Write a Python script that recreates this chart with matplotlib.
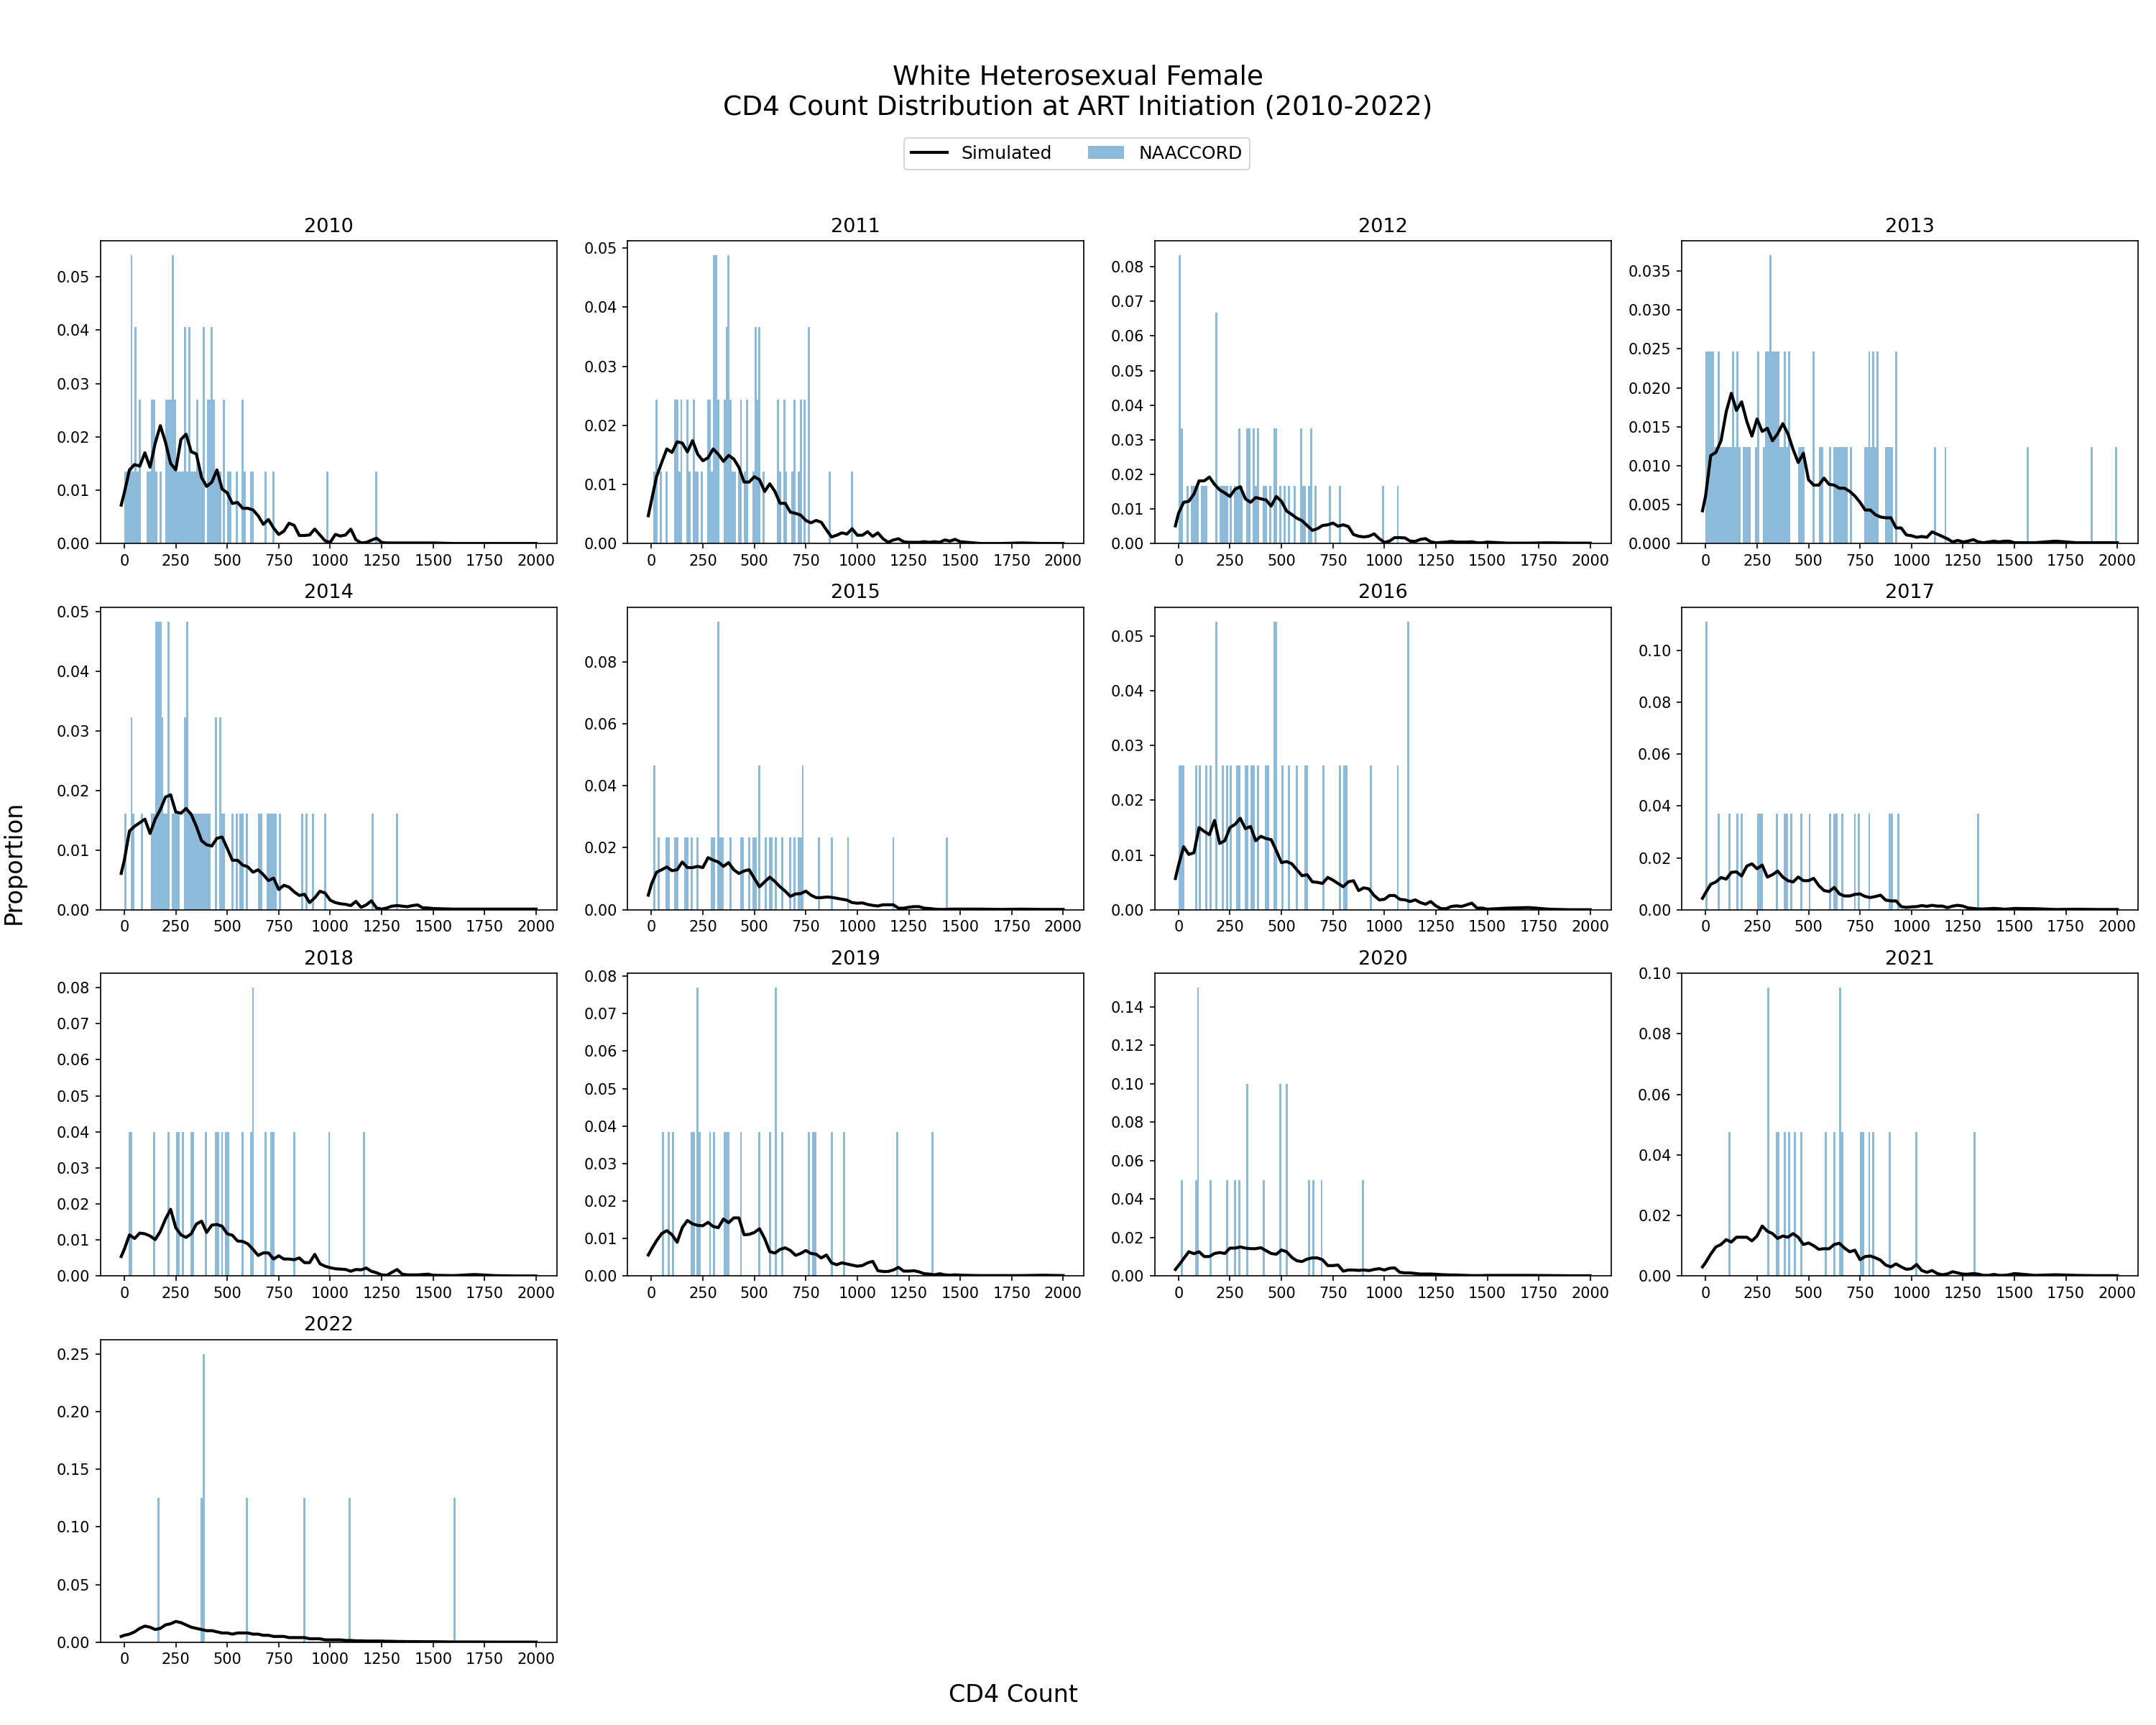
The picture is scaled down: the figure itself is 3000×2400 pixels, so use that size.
import numpy as np
import matplotlib
matplotlib.use("Agg")
import matplotlib.pyplot as plt

years = [2010, 2011, 2012, 2013, 2014, 2015, 2016, 2017, 2018, 2019, 2020, 2021, 2022]

# NAACCORD cohort size per year (bar height = count / n)
naaccord_n = [74, 82, 60, 81, 62, 43, 38, 27, 25, 26, 20, 21, 8]

# NAACCORD CD4 counts at ART initiation, one entry per person
naaccord_cd4 = [
    # 2010
    [5, 15, 25, 35, 35, 35, 35, 45, 55, 55, 55, 65, 75, 75,
     115, 125, 135, 135, 145, 145, 155, 175,
     205, 205, 215, 215, 225, 225, 235, 235, 235, 235, 245, 245, 255, 265, 275,
     285, 295, 295, 295, 305, 315, 315, 315, 325, 335,
     345, 355, 355, 365, 375, 385, 385, 385,
     405, 405, 415, 415, 425, 425, 425, 435, 435, 445, 455, 465,
     485, 485, 505, 515, 545, 575, 575, 585, 615, 625, 685, 725, 985, 1225],
    # 2011
    [15, 25, 25, 45, 75, 115, 115, 125, 125, 135, 145, 145, 175, 175, 185, 205, 205, 215, 225, 245,
     275, 275, 285, 285, 295, 305, 305, 305, 305, 315, 315, 315, 315, 325, 325,
     355, 355, 365, 365, 365, 375, 375, 375, 375, 385, 385, 395, 405,
     425, 435, 435, 455, 465, 465,
     495, 505, 505, 505, 515, 515, 525, 525, 525, 545,
     615, 615, 625, 645, 645, 655,
     685, 695, 695, 715, 725, 725, 745, 745, 765, 765, 765, 865, 975],
    # 2012
    [5, 5, 5, 5, 5, 15, 15, 45, 65, 75, 85, 95, 115, 125, 135, 185, 185, 185, 185,
     205, 215, 225, 235, 255, 275, 285, 295, 295, 305, 335, 335, 345, 345,
     365, 365, 375, 385, 385, 415, 425, 445, 465, 465, 475, 475, 495, 515, 535, 565,
     595, 595, 605, 615, 635, 645, 645, 665, 735, 785, 995, 1065],
    # 2013
    [5, 5, 15, 15, 25, 25, 35, 35, 45, 55, 65, 65, 75, 85, 95, 105, 115, 125, 135, 135,
     145, 155, 155, 165, 185, 195, 205, 215, 245, 255, 255, 285, 295, 295, 305, 305,
     315, 315, 315, 325, 325, 335, 335, 345, 345, 355, 355, 365, 375, 385, 385, 395,
     405, 405, 455, 465, 475, 525, 525, 555, 565, 605, 625, 635, 645, 655, 665, 675,
     685, 705, 775, 785, 795, 795, 805, 815, 815, 825, 835, 835, 875, 885, 895, 905,
     925, 925, 1115, 1165, 1565, 1875, 1995],
    # 2014
    [5, 35, 35, 45, 85, 135, 145, 155, 155, 155, 165, 165, 165, 175, 175, 175, 185, 185,
     195, 205, 215, 215, 215, 235, 245, 255, 265, 295, 295, 305, 305, 305,
     315, 325, 335, 345, 355, 365, 375, 385, 395, 405, 415,
     445, 445, 465, 465, 475, 485, 525, 545, 565, 575, 595, 655, 665,
     695, 705, 715, 725, 735, 755, 865, 885, 915, 975, 1205, 1325],
    # 2015
    [15, 15, 35, 75, 85, 115, 125, 165, 175, 195, 225, 295, 305, 325, 325, 325, 325,
     335, 345, 385, 435, 445, 475, 495, 505, 525, 525, 555, 575, 585, 605, 635, 675,
     695, 715, 725, 735, 735, 815, 875, 955, 1175, 1435],
    # 2016
    [5, 15, 25, 85, 105, 135, 155, 185, 185, 215, 235, 255, 285, 295, 325, 335, 355,
     365, 385, 425, 435, 465, 465, 475, 475, 505, 535, 575, 615, 625, 705, 785, 805,
     815, 935, 1065, 1115, 1115],
    # 2017
    [5, 5, 5, 65, 115, 155, 175, 255, 265, 275, 345, 385, 395, 415, 465, 505, 605,
     625, 635, 665, 725, 745, 795, 895, 905, 935, 1325],
    # 2018
    [25, 35, 145, 215, 255, 265, 285, 325, 335, 395, 445, 455, 475, 495, 505, 575,
     615, 625, 625, 685, 715, 725, 825, 995, 1165],
    # 2019
    [55, 85, 105, 195, 205, 225, 225, 235, 285, 305, 355, 365, 375, 435, 525, 575,
     605, 605, 635, 765, 785, 795, 875, 935, 1195, 1365],
    # 2020
    [15, 85, 95, 95, 95, 155, 235, 275, 295, 335, 335, 415, 495, 495, 525, 525,
     635, 655, 695, 895],
    # 2021
    [115, 305, 305, 345, 355, 385, 405, 435, 465, 585, 625, 655, 655, 665, 755, 765,
     795, 815, 895, 1025, 1305],
    # 2022
    [165, 375, 385, 385, 595, 875, 1095, 1605],
]

# CD4 grid of the simulated distribution
sim_x = [-15] + list(range(0, 1500, 25)) + [1500, 1600, 1700, 1800, 1900, 2000]

# simulated proportion at each grid point
sim_y = [
    # 2010
    [0.0072,
     0.0095, 0.0138, 0.0148, 0.0145, 0.0170, 0.0143, 0.0188, 0.0221, 0.0190, 0.0150,
     0.0138, 0.0195, 0.0205, 0.0172, 0.0168, 0.0124, 0.0107, 0.0115, 0.0138, 0.0102,
     0.0095, 0.0075, 0.0077, 0.0066, 0.0066, 0.0063, 0.0052, 0.0036, 0.0045, 0.0029,
     0.0017, 0.0023, 0.0038, 0.0034, 0.0015, 0.0015, 0.0016, 0.0027, 0.0016, 0.0005,
     0.0002, 0.0017, 0.0014, 0.0016, 0.0027, 0.0007, 0.0001, 0.0002, 0.0006, 0.0010,
     0.0002, 0.0001, 0.0001, 0.0001, 0.0001, 0.0001, 0.0001, 0.0001, 0.0001, 0.0001,
     0.0001, 0.0000, 0.0000, 0.0000, 0.0000, 0.0000],
    # 2011
    [0.0047,
     0.0072, 0.0113, 0.0137, 0.0160, 0.0154, 0.0172, 0.0170, 0.0155, 0.0174, 0.0151,
     0.0140, 0.0145, 0.0160, 0.0151, 0.0139, 0.0149, 0.0143, 0.0129, 0.0104, 0.0104,
     0.0113, 0.0108, 0.0088, 0.0101, 0.0088, 0.0068, 0.0068, 0.0053, 0.0051, 0.0048,
     0.0039, 0.0035, 0.0039, 0.0036, 0.0023, 0.0011, 0.0014, 0.0018, 0.0016, 0.0025,
     0.0014, 0.0014, 0.0020, 0.0012, 0.0018, 0.0008, 0.0002, 0.0006, 0.0008, 0.0003,
     0.0002, 0.0002, 0.0002, 0.0003, 0.0002, 0.0003, 0.0002, 0.0006, 0.0004, 0.0007,
     0.0003, 0.0000, 0.0000, 0.0001, 0.0000, 0.0000],
    # 2012
    [0.0051,
     0.0087, 0.0119, 0.0122, 0.0143, 0.0181, 0.0181, 0.0192, 0.0171, 0.0155, 0.0146,
     0.0136, 0.0157, 0.0164, 0.0129, 0.0119, 0.0133, 0.0129, 0.0126, 0.0108, 0.0136,
     0.0122, 0.0094, 0.0084, 0.0073, 0.0066, 0.0052, 0.0038, 0.0043, 0.0052, 0.0054,
     0.0059, 0.0050, 0.0054, 0.0049, 0.0026, 0.0021, 0.0019, 0.0021, 0.0028, 0.0014,
     0.0003, 0.0007, 0.0017, 0.0017, 0.0016, 0.0007, 0.0006, 0.0012, 0.0014, 0.0005,
     0.0002, 0.0003, 0.0004, 0.0006, 0.0004, 0.0004, 0.0004, 0.0005, 0.0002, 0.0002,
     0.0004, 0.0001, 0.0001, 0.0002, 0.0001, 0.0001],
    # 2013
    [0.0042,
     0.0061, 0.0113, 0.0117, 0.0132, 0.0169, 0.0193, 0.0171, 0.0182, 0.0157, 0.0138,
     0.0160, 0.0144, 0.0148, 0.0132, 0.0141, 0.0154, 0.0141, 0.0121, 0.0104, 0.0116,
     0.0082, 0.0075, 0.0075, 0.0084, 0.0076, 0.0075, 0.0071, 0.0071, 0.0067, 0.0061,
     0.0053, 0.0043, 0.0043, 0.0037, 0.0034, 0.0033, 0.0033, 0.0020, 0.0020, 0.0011,
     0.0010, 0.0008, 0.0009, 0.0008, 0.0015, 0.0012, 0.0009, 0.0006, 0.0002, 0.0004,
     0.0002, 0.0003, 0.0005, 0.0002, 0.0001, 0.0002, 0.0003, 0.0002, 0.0003, 0.0003,
     0.0001, 0.0001, 0.0003, 0.0001, 0.0001, 0.0001],
    # 2014
    [0.0061,
     0.0083, 0.0132, 0.0140, 0.0146, 0.0152, 0.0128, 0.0152, 0.0168, 0.0189, 0.0193,
     0.0164, 0.0162, 0.0170, 0.0160, 0.0140, 0.0116, 0.0109, 0.0107, 0.0120, 0.0122,
     0.0103, 0.0083, 0.0083, 0.0075, 0.0072, 0.0063, 0.0067, 0.0059, 0.0049, 0.0053,
     0.0034, 0.0041, 0.0038, 0.0030, 0.0024, 0.0026, 0.0012, 0.0020, 0.0031, 0.0028,
     0.0016, 0.0012, 0.0010, 0.0009, 0.0007, 0.0014, 0.0004, 0.0008, 0.0015, 0.0003,
     0.0001, 0.0003, 0.0006, 0.0007, 0.0006, 0.0005, 0.0007, 0.0008, 0.0003, 0.0003,
     0.0002, 0.0001, 0.0001, 0.0001, 0.0001, 0.0001],
    # 2015
    [0.0047,
     0.0082, 0.0121, 0.0129, 0.0138, 0.0126, 0.0129, 0.0154, 0.0136, 0.0136, 0.0140,
     0.0136, 0.0168, 0.0160, 0.0154, 0.0140, 0.0152, 0.0129, 0.0117, 0.0125, 0.0129,
     0.0101, 0.0074, 0.0090, 0.0105, 0.0091, 0.0074, 0.0060, 0.0043, 0.0051, 0.0052,
     0.0060, 0.0047, 0.0039, 0.0039, 0.0041, 0.0040, 0.0037, 0.0034, 0.0031, 0.0023,
     0.0021, 0.0022, 0.0017, 0.0014, 0.0012, 0.0016, 0.0016, 0.0016, 0.0005, 0.0005,
     0.0008, 0.0010, 0.0010, 0.0005, 0.0004, 0.0002, 0.0001, 0.0001, 0.0002, 0.0002,
     0.0002, 0.0002, 0.0001, 0.0002, 0.0001, 0.0001],
    # 2016
    [0.0057,
     0.0081, 0.0115, 0.0101, 0.0104, 0.0150, 0.0143, 0.0137, 0.0163, 0.0121, 0.0126,
     0.0150, 0.0156, 0.0167, 0.0148, 0.0152, 0.0126, 0.0134, 0.0130, 0.0128, 0.0108,
     0.0086, 0.0088, 0.0084, 0.0073, 0.0062, 0.0064, 0.0051, 0.0050, 0.0048, 0.0059,
     0.0054, 0.0048, 0.0042, 0.0051, 0.0053, 0.0035, 0.0040, 0.0038, 0.0026, 0.0018,
     0.0019, 0.0026, 0.0026, 0.0019, 0.0018, 0.0015, 0.0018, 0.0013, 0.0010, 0.0015,
     0.0007, 0.0002, 0.0002, 0.0006, 0.0007, 0.0006, 0.0009, 0.0012, 0.0003, 0.0003,
     0.0001, 0.0003, 0.0004, 0.0001, 0.0000, 0.0000],
    # 2017
    [0.0044,
     0.0065, 0.0098, 0.0107, 0.0124, 0.0118, 0.0144, 0.0146, 0.0130, 0.0168, 0.0177,
     0.0158, 0.0172, 0.0126, 0.0135, 0.0149, 0.0126, 0.0112, 0.0107, 0.0126, 0.0112,
     0.0112, 0.0121, 0.0093, 0.0074, 0.0070, 0.0086, 0.0061, 0.0053, 0.0053, 0.0059,
     0.0061, 0.0051, 0.0047, 0.0051, 0.0056, 0.0037, 0.0034, 0.0034, 0.0012, 0.0009,
     0.0011, 0.0012, 0.0016, 0.0013, 0.0017, 0.0014, 0.0014, 0.0008, 0.0014, 0.0017,
     0.0014, 0.0007, 0.0005, 0.0003, 0.0003, 0.0004, 0.0005, 0.0004, 0.0002, 0.0003,
     0.0005, 0.0004, 0.0001, 0.0002, 0.0001, 0.0001],
    # 2018
    [0.0054,
     0.0074, 0.0114, 0.0104, 0.0119, 0.0117, 0.0111, 0.0101, 0.0124, 0.0158, 0.0185,
     0.0134, 0.0114, 0.0107, 0.0117, 0.0144, 0.0152, 0.0121, 0.0141, 0.0143, 0.0138,
     0.0117, 0.0113, 0.0097, 0.0096, 0.0089, 0.0074, 0.0057, 0.0064, 0.0064, 0.0047,
     0.0056, 0.0047, 0.0047, 0.0045, 0.0050, 0.0037, 0.0037, 0.0060, 0.0034, 0.0027,
     0.0023, 0.0020, 0.0019, 0.0018, 0.0013, 0.0018, 0.0017, 0.0022, 0.0013, 0.0009,
     0.0003, 0.0002, 0.0010, 0.0018, 0.0005, 0.0003, 0.0003, 0.0003, 0.0004, 0.0005,
     0.0002, 0.0001, 0.0004, 0.0001, 0.0000, 0.0000],
    # 2019
    [0.0056,
     0.0071, 0.0094, 0.0113, 0.0121, 0.0110, 0.0090, 0.0129, 0.0148, 0.0139, 0.0135,
     0.0134, 0.0143, 0.0132, 0.0129, 0.0152, 0.0142, 0.0155, 0.0155, 0.0110, 0.0111,
     0.0116, 0.0126, 0.0100, 0.0065, 0.0061, 0.0071, 0.0075, 0.0068, 0.0055, 0.0060,
     0.0068, 0.0060, 0.0058, 0.0048, 0.0056, 0.0035, 0.0030, 0.0035, 0.0032, 0.0029,
     0.0026, 0.0028, 0.0035, 0.0039, 0.0014, 0.0012, 0.0012, 0.0016, 0.0023, 0.0013,
     0.0013, 0.0014, 0.0011, 0.0006, 0.0005, 0.0003, 0.0006, 0.0003, 0.0002, 0.0003,
     0.0002, 0.0001, 0.0001, 0.0001, 0.0002, 0.0001],
    # 2020
    [0.0034,
     0.0054, 0.0090, 0.0126, 0.0116, 0.0126, 0.0101, 0.0101, 0.0117, 0.0122, 0.0117,
     0.0145, 0.0145, 0.0151, 0.0145, 0.0142, 0.0142, 0.0147, 0.0132, 0.0117, 0.0113,
     0.0135, 0.0126, 0.0097, 0.0079, 0.0075, 0.0088, 0.0094, 0.0094, 0.0084, 0.0054,
     0.0054, 0.0057, 0.0025, 0.0031, 0.0031, 0.0029, 0.0031, 0.0028, 0.0034, 0.0038,
     0.0031, 0.0040, 0.0042, 0.0019, 0.0016, 0.0016, 0.0013, 0.0010, 0.0010, 0.0010,
     0.0009, 0.0007, 0.0006, 0.0005, 0.0005, 0.0004, 0.0003, 0.0002, 0.0002, 0.0002,
     0.0003, 0.0003, 0.0003, 0.0002, 0.0001, 0.0001],
    # 2021
    [0.0030,
     0.0044, 0.0072, 0.0096, 0.0104, 0.0120, 0.0112, 0.0128, 0.0128, 0.0128, 0.0116,
     0.0132, 0.0165, 0.0148, 0.0140, 0.0124, 0.0132, 0.0128, 0.0140, 0.0128, 0.0104,
     0.0109, 0.0100, 0.0088, 0.0090, 0.0090, 0.0104, 0.0108, 0.0092, 0.0080, 0.0085,
     0.0054, 0.0064, 0.0066, 0.0060, 0.0052, 0.0036, 0.0030, 0.0040, 0.0030, 0.0022,
     0.0024, 0.0038, 0.0018, 0.0012, 0.0018, 0.0008, 0.0004, 0.0007, 0.0014, 0.0010,
     0.0006, 0.0006, 0.0008, 0.0006, 0.0002, 0.0002, 0.0005, 0.0002, 0.0002, 0.0004,
     0.0008, 0.0002, 0.0004, 0.0002, 0.0001, 0.0001],
    # 2022
    [0.0050,
     0.0060, 0.0070, 0.0090, 0.0120, 0.0140, 0.0130, 0.0110, 0.0120, 0.0150, 0.0160,
     0.0180, 0.0170, 0.0150, 0.0130, 0.0120, 0.0110, 0.0100, 0.0100, 0.0090, 0.0080,
     0.0080, 0.0070, 0.0080, 0.0080, 0.0080, 0.0070, 0.0070, 0.0060, 0.0060, 0.0050,
     0.0050, 0.0050, 0.0040, 0.0040, 0.0040, 0.0040, 0.0030, 0.0030, 0.0030, 0.0020,
     0.0020, 0.0020, 0.0020, 0.0015, 0.0015, 0.0012, 0.0012, 0.0010, 0.0010, 0.0010,
     0.0010, 0.0008, 0.0008, 0.0006, 0.0006, 0.0005, 0.0005, 0.0005, 0.0004, 0.0004,
     0.0004, 0.0002, 0.0002, 0.0001, 0.0001, 0.0001],
]

bin_edges = np.arange(0, 2010, 10)

fig, axes = plt.subplots(4, 4, figsize=(20, 16), dpi=150)
fig.subplots_adjust(left=0.0466, right=0.9917, bottom=0.048, top=0.8604,
                    wspace=0.155, hspace=0.21)
axes = axes.flatten()

for i, year in enumerate(years):
    ax = axes[i]
    vals = naaccord_cd4[i]
    w = np.full(len(vals), 1.0 / naaccord_n[i])
    ax.hist(vals, bins=bin_edges, weights=w, color='C0', alpha=0.5, label='NAACCORD')
    ax.plot(sim_x, sim_y[i], color='black', lw=2, label='Simulated')
    ax.set_title(str(year), fontsize=13)
    ax.tick_params(labelsize=10)

# hide the unused panels
for ax in axes[len(years):]:
    ax.axis('off')

handles, labels = axes[0].get_legend_handles_labels()
fig.legend(handles[::-1], labels[::-1], loc='center', bbox_to_anchor=(0.4994, 0.911),
           ncol=2, fontsize=12)

fig.text(0.5, 0.9465, "White Heterosexual Female\nCD4 Count Distribution at ART Initiation (2010-2022)",
         ha='center', va='center', fontsize=18)
fig.text(0.47, 0.0175, "CD4 Count", ha='center', va='center', fontsize=16)
fig.text(0.0064, 0.5, "Proportion", ha='center', va='center', rotation=90, fontsize=16)

fig.savefig("out.png", dpi=150)
